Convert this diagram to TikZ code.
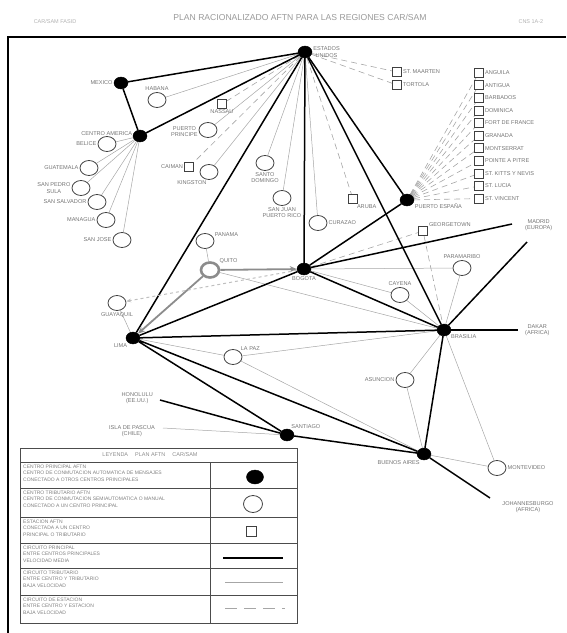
\documentclass[tikz,border=0pt]{standalone}
\usepackage{fontspec}
\setmainfont{Liberation Sans}
\usetikzlibrary{shapes.geometric,arrows.meta,backgrounds}
\begin{document}
\begin{tikzpicture}[x=1pt,y=-1pt,
  hub/.style={ellipse,fill=black,draw=black,minimum width=14,minimum height=12,inner sep=0},
  trib/.style={ellipse,fill=white,draw=black!75,line width=0.8,minimum width=18,minimum height=15,inner sep=0},
  stn/.style={rectangle,fill=white,draw=black!75,line width=0.7,minimum size=9,inner sep=0},
  lbl/.style={font=\fontsize{5.6}{6.4}\selectfont,text=black!55,align=center,inner sep=1},
  leg/.style={font=\fontsize{5}{6.2}\selectfont,text=black!50,align=left,anchor=north west,inner sep=0},
  main/.style={line width=1.5,black},
  sec/.style={line width=0.5,black!35},
  stnl/.style={line width=0.6,black!35,dash pattern=on 6pt off 4pt},
  hl/.style={line width=1.8,black!45,-{Stealth[length=7pt,width=6pt]}}]
  \useasboundingbox (0,0) rectangle (566,633);
  % page frame and header
  \draw[line width=1.4] (8,633) -- (8,37) -- (566,37);
  \node[font=\fontsize{8.6}{10}\selectfont,text=black!40] (title) at (300,17) {PLAN RACIONALIZADO AFTN PARA LAS REGIONES CAR/SAM};
  \node[font=\fontsize{5.5}{6}\selectfont,text=black!30] (hleft) at (55,22) {CAR/SAM FASID};
  \node[font=\fontsize{5.5}{6}\selectfont,text=black!30,anchor=west] (hright) at (515,22) {CNS 1A-2};
  % main centres
  \node[hub,label={[lbl,anchor=west]right:ESTADOS\\UNIDOS}] (atl) at (305,52) {};
  \node[hub,label={[lbl]left:MEXICO}] (mex) at (121,83) {};
  \node[hub,label={[lbl,anchor=east]160:CENTRO AMERICA}] (cam) at (140,136) {};
  \node[hub,label={[lbl,anchor=north west]-20:PUERTO ESPAÑA}] (pe) at (407,200) {};
  \node[hub,label={[lbl]below:BOGOTA}] (bog) at (304,269) {};
  \node[hub,label={[lbl]below left:LIMA}] (lim) at (133,338) {};
  \node[hub,label={[lbl,anchor=north west]-30:BRASILIA}] (bra) at (444,330) {};
  \node[hub,label={[lbl,anchor=south west]60:SANTIAGO}] (scl) at (287,435) {};
  \node[hub,label={[lbl,anchor=north east]-120:BUENOS AIRES}] (bue) at (424,454) {};
  % tributary centres
  \node[trib,label={[lbl]above:HABANA}] (hab) at (157,100) {};
  \node[trib,label={[lbl,anchor=east]190:PUERTO\\PRINCIPE}] (pap) at (208,130) {};
  \node[trib,label={[lbl,anchor=north east]-100:KINGSTON}] (kin) at (209,172) {};
  \node[trib,label={[lbl]below:SANTO\\DOMINGO}] (sdq) at (265,163) {};
  \node[trib,label={[lbl]below:SAN JUAN\\PUERTO RICO}] (sju) at (282,198) {};
  \node[trib,label={[lbl]right:CURAZAO}] (cur) at (318,223) {};
  \node[trib,label={[lbl,anchor=south west]20:PANAMA}] (pan) at (205,241) {};
  \node[trib,line width=2.6,draw=black!45,label={[lbl,anchor=south west]30:QUITO}] (uio) at (210,270) {};
  \node[trib,label={[lbl]below:GUAYAQUIL}] (gye) at (117,303) {};
  \node[trib,label={[lbl,anchor=south west]40:LA PAZ}] (lpz) at (233,357) {};
  \node[trib,label={[lbl]above:PARAMARIBO}] (pbm) at (462,268) {};
  \node[trib,label={[lbl]above:CAYENA}] (cay) at (400,295) {};
  \node[trib,label={[lbl]left:ASUNCION}] (asu) at (405,380) {};
  \node[trib,label={[lbl]right:MONTEVIDEO}] (mvd) at (497,468) {};
  \foreach \xc/\yc/\t [count=\i] in {107/144/BELICE,89/168/GUATEMALA,81/188/SAN PEDRO\\SULA,
      97/202/SAN SALVADOR,106/220/MANAGUA,122/240/SAN JOSE}
    \node[trib,label={[lbl]left:\t}] (c\i) at (\xc,\yc) {};
  % stations
  \node[stn,label={[lbl]below:NASSAU}] (nas) at (222,104) {};
  \node[stn,label={[lbl]left:CAIMAN}] (gcm) at (189,167) {};
  \node[stn,label={[lbl]right:ST. MAARTEN}] (sxm) at (397,72) {};
  \node[stn,label={[lbl]right:TORTOLA}] (tor) at (397,85) {};
  \node[stn,label={[lbl,anchor=north west]-60:ARUBA}] (aru) at (353,199) {};
  \node[stn,label={[lbl,anchor=south west]30:GEORGETOWN}] (geo) at (423,231) {};
  \foreach \t [count=\i] in {ANGUILA,ANTIGUA,BARBADOS,DOMINICA,FORT DE FRANCE,GRANADA,
      MONTSERRAT,POINTE A PITRE,ST. KITTS Y NEVIS,ST. LUCIA,ST. VINCENT}
    \node[stn,label={[lbl]right:\t}] (e\i) at (479,{60+12.6*\i}) {};
  % ends of circuits leaving the regions
  \coordinate (mad) at (512,224);
  \coordinate (afn) at (527,242);
  \coordinate (dkr) at (518,330);
  \coordinate (jnb) at (490,498);
  \coordinate (hnl) at (160,400);
  \coordinate (ipc) at (163,428);
  \node[lbl,anchor=west] (madl) at (524,225) {MADRID\\(EUROPA)};
  \node[lbl,anchor=west] (dkrl) at (524,330) {DAKAR\\(AFRICA)};
  \node[lbl,anchor=north] (jnbl) at (528,500) {JOHANNESBURGO\\(AFRICA)};
  \node[lbl,anchor=east] (hnll) at (154,398) {HONOLULU\\(EE.UU.)};
  \node[lbl,anchor=east] (ipcl) at (156,431) {ISLA DE PASCUA\\(CHILE)};
  \begin{scope}[on background layer]
    % station circuits
    \foreach \s in {nas,gcm,sxm,tor,aru} \draw[stnl] (atl) -- (\s);
    \foreach \i in {1,...,11} \draw[stnl] (pe) -- (e\i);
    \draw[stnl] (bog) -- (geo) -- (bra);
    % tributary circuits
    \foreach \s in {hab,pap,kin,sdq,sju,cur} \draw[sec] (atl) -- (\s);
    \foreach \i in {1,...,6} \draw[sec] (cam) -- (c\i);
    \draw[sec] (bog) -- (pbm) -- (bra);
    \draw[sec] (bog) -- (cay) -- (bra);
    \draw[sec] (uio) -- (bra);
    \draw[sec] (lim) -- (lpz) -- (bra);
    \draw[sec] (lpz) -- (bue);
    \draw[sec] (bra) -- (asu) -- (bue);
    \draw[sec] (bra) -- (mvd) -- (bue);
    \draw[sec] (lim) -- (gye);
    \draw[sec] (uio) -- (pan);
    \draw[sec] (ipc) -- (scl);
    % main circuits
    \draw[main] (atl) -- (mex) -- (cam) -- (atl);
    \foreach \s in {lim,bog,pe,bra} \draw[main] (atl) -- (\s);
    \draw[main] (pe) -- (bog) -- (lim) -- (bra) -- (bog);
    \draw[main] (bog) -- (mad);
    \draw[main] (bra) -- (afn);
    \draw[main] (bra) -- (dkr);
    \draw[main] (lim) -- (scl) -- (bue) -- (lim);
    \draw[main] (bra) -- (bue) -- (jnb);
    \draw[main] (hnl) -- (scl);
    % new circuits
    \draw[hl] (uio) -- (bog);
    \draw[hl] (uio) -- (lim);
    \draw[line width=1,black!25,dashed,-{Stealth[length=5pt]}] (bog) -- (gye);
  \end{scope}
  % legend
  \draw[line width=0.8,black!70] (20,448) rectangle (297,623);
  \foreach \yl in {462,488,517,543,568,595} \draw[line width=0.8,black!70] (20,\yl) -- (297,\yl);
  \draw[line width=0.8,black!70] (210,462) -- (210,623);
  \node[font=\fontsize{5.5}{6}\selectfont,text=black!45] (legt) at (150,455) {LEYENDA \quad PLAN AFTN \quad CAR/SAM};
  \node[leg] (leg1) at (23,465) {CENTRO PRINCIPAL AFTN\\CENTRO DE CONMUTACION AUTOMATICA DE MENSAJES\\CONECTADO A OTROS CENTROS PRINCIPALES};
  \node[leg] (leg2) at (23,491) {CENTRO TRIBUTARIO AFTN\\CENTRO DE CONMUTACION SEMIAUTOMATICA O MANUAL\\CONECTADO A UN CENTRO PRINCIPAL};
  \node[leg] (leg3) at (23,520) {ESTACION AFTN\\CONECTADA A UN CENTRO\\PRINCIPAL O TRIBUTARIO};
  \node[leg] (leg4) at (23,546) {CIRCUITO PRINCIPAL\\ENTRE CENTROS PRINCIPALES\\VELOCIDAD MEDIA};
  \node[leg] (leg5) at (23,571) {CIRCUITO TRIBUTARIO\\ENTRE CENTRO Y TRIBUTARIO\\BAJA VELOCIDAD};
  \node[leg] (leg6) at (23,598) {CIRCUITO DE ESTACION\\ENTRE CENTRO Y ESTACION\\BAJA VELOCIDAD};
  \node[hub,minimum width=17,minimum height=14] (symhub) at (255,477) {};
  \node[trib,minimum width=19,minimum height=17] (symtrib) at (253,504) {};
  \node[stn,minimum size=10] (symstn) at (251,531) {};
  \draw[main] (223,558) -- (283,558);
  \draw[sec,line width=0.7] (225,582) -- (283,582);
  \draw[stnl,dash pattern=on 12pt off 7pt] (225,608) -- (285,608);
\end{tikzpicture}
\end{document}
